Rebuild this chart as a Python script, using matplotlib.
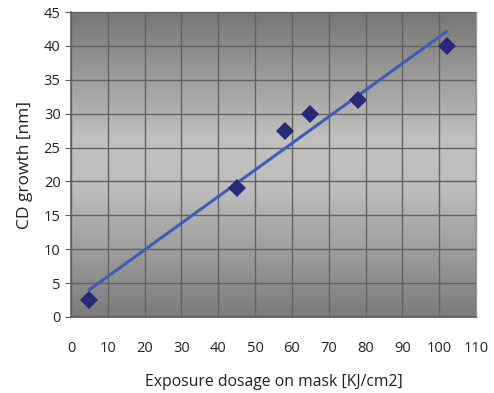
import numpy as np
import matplotlib.pyplot as plt
from matplotlib.colors import LinearSegmentedColormap

# %% data
dose = [5, 45, 58, 65, 78, 102]
cd_growth = [2.5, 19, 27.5, 30, 32, 40]
xticks = np.arange(0, 111, 10)
yticks = np.arange(0, 46, 5)

# linear trend line (least squares over the points)
k, m = np.polyfit(dose, cd_growth, 1)
trend_x = np.array([min(dose), max(dose)])
trend_y = k*trend_x + m

plt.rcParams['font.family'] = ['Open Sans', 'DejaVu Sans']

fig = plt.figure(figsize=(4.94, 3.93), dpi=100)
ax = fig.add_axes([0.1437, 0.1934, 0.8199, 0.776])

# vertical gray gradient background
grad = LinearSegmentedColormap.from_list('bg', [
    (0.0, '#7b7b7b'), (0.42, '#bdbdbd'), (0.58, '#c2c1bf'),
    (1.0, '#767676')])
g = np.linspace(0, 1, 256).reshape(-1, 1)
ax.imshow(g, aspect='auto', cmap=grad, extent=[0, 110, 0, 45],
          origin='lower', zorder=0)

ax.set_xlim(0, 110)
ax.set_ylim(0, 45)
ax.set_xticks(xticks)
ax.set_yticks(yticks)
ax.grid(True, color='#626262', linewidth=1.0, zorder=1)
ax.set_axisbelow(False)

ax.plot(trend_x, trend_y, color='#3c5eb4', linewidth=2.2, zorder=3)
ax.plot(dose, cd_growth, 'D', color='#262a78', markersize=9,
        markeredgewidth=0, zorder=4)

for s in ['left', 'bottom']:
    ax.spines[s].set_color('#5a5a5a')
    ax.spines[s].set_linewidth(1.2)
for s in ['top', 'right']:
    ax.spines[s].set_color('#9a9a9a')
    ax.spines[s].set_linewidth(1.0)

ax.tick_params(axis='y', length=4.5, color='#5a5a5a', pad=3,
               labelsize=10.5, labelcolor='#222222')
ax.tick_params(axis='x', length=0, pad=17, labelsize=10.5,
               labelcolor='#222222')

ax.set_xlabel('Exposure dosage on mask [KJ/cm2]', fontsize=11.3,
              color='#222222', labelpad=13)
ax.set_ylabel('CD growth [nm]', fontsize=12.5, color='#222222',
              labelpad=8)

fig.savefig('out.png', dpi=100)
